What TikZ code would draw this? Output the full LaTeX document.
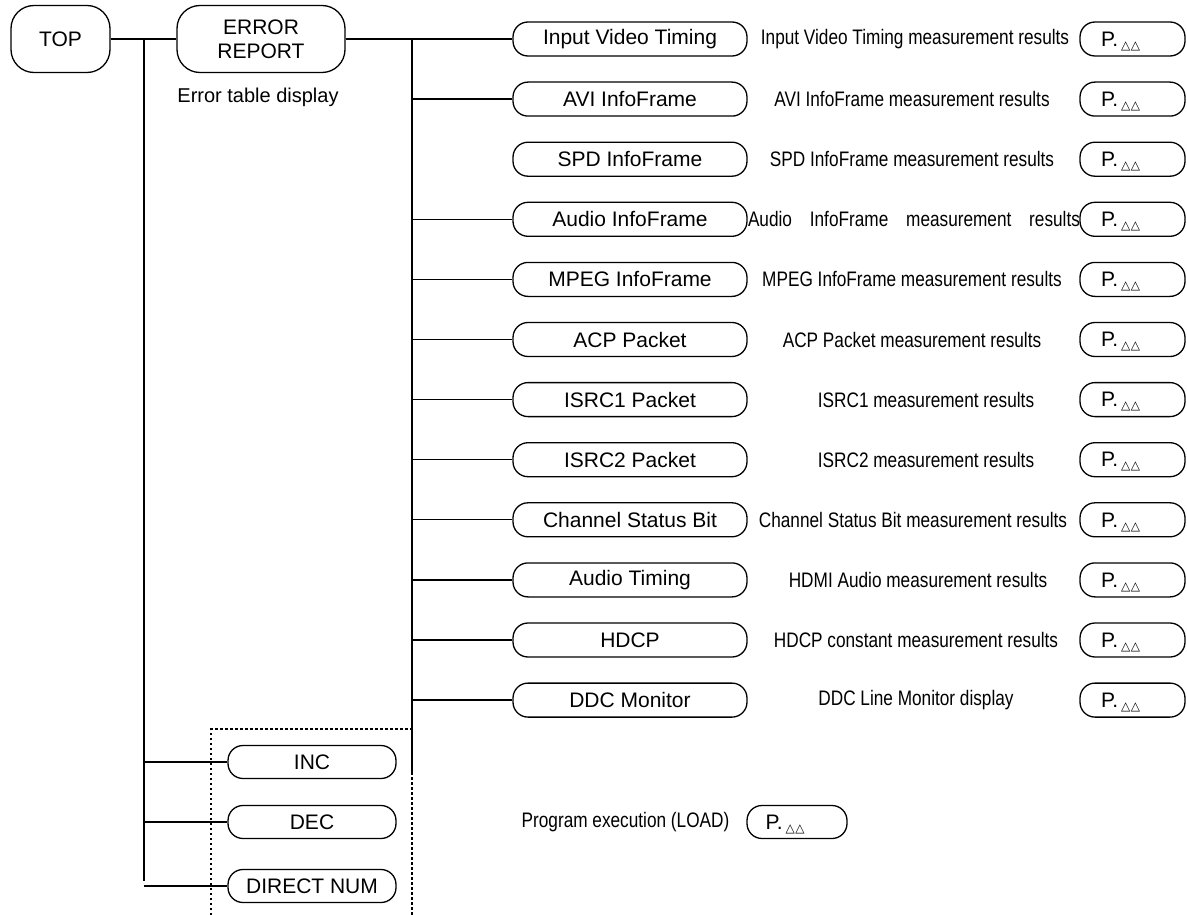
\documentclass[tikz,border=0pt]{standalone}
\usepackage{fontspec}
\setmainfont{Liberation Sans}
\newfontfamily\narrowfont[FakeStretch=0.82]{Liberation Sans}
\newfontfamily\trifont{DejaVu Sans}
\newcommand{\ptext}{\makebox[63pt][l]{P.\hspace{3pt}\raisebox{-3pt}[0pt][0pt]{\trifont\fontsize{12pt}{12pt}\selectfont △\hspace{0.5pt}△}}}
\begin{document}
\begin{tikzpicture}[x=1pt,y=-1pt,
  every node/.style={font=\fontsize{21pt}{24pt}\selectfont, inner sep=0pt},
  mainbox/.style={draw, line width=1.3pt, rounded corners=23pt, minimum height=67pt, align=center},
  itembox/.style={draw, line width=1.3pt, rounded corners=15pt, minimum width=234pt, minimum height=34pt},
  smallbox/.style={draw, line width=1.3pt, rounded corners=15pt, minimum width=168pt, minimum height=33pt},
  pbox/.style={draw, line width=1.3pt, rounded corners=15pt, minimum width=105pt, minimum height=34pt},
  desc/.style={font=\narrowfont\fontsize{21pt}{24pt}\selectfont},
  conn/.style={line width=1.3pt},
  dotbox/.style={line width=1.2pt, dash pattern=on 2.5pt off 2.5pt}]
\useasboundingbox (0,0) rectangle (1187,915);

% top level
\node[mainbox, minimum width=99pt] (top) at (60.5,39) {TOP};
\node[mainbox, minimum width=168pt] (err) at (261,39) {ERROR\\REPORT};
\node[font=\fontsize{20pt}{24pt}\selectfont] (errdesc) at (258,97) {Error table display};

% item boxes
\node[itembox] (r0) at (630,39) {Input Video Timing};
\node[itembox] (r1) at (630,99.1) {AVI InfoFrame};
\node[itembox] (r2) at (630,159.2) {SPD InfoFrame};
\node[itembox] (r3) at (630,219.3) {Audio InfoFrame};
\node[itembox] (r4) at (630,279.4) {MPEG InfoFrame};
\node[itembox] (r5) at (630,339.5) {ACP Packet};
\node[itembox] (r6) at (630,399.6) {ISRC1 Packet};
\node[itembox] (r7) at (630,459.7) {ISRC2 Packet};
\node[itembox] (r8) at (630,519.8) {Channel Status Bit};
\node[itembox] (r9) at (630,579.9) {Audio Timing};
\node[itembox] (r10) at (630,640) {HDCP};
\node[itembox] (r11) at (630,700.1) {DDC Monitor};

% descriptions
\node[desc] (d0) at (915,39) {Input Video Timing measurement results};
\node[desc] (d1) at (912,99.1) {AVI InfoFrame measurement results};
\node[desc] (d2) at (912,159.2) {SPD InfoFrame measurement results};
\node[desc] (d3) at (914,219.3) {\makebox[332pt][s]{Audio InfoFrame measurement results}};
\node[desc] (d4) at (912,279.4) {MPEG InfoFrame measurement results};
\node[desc] (d5) at (912,339.5) {ACP Packet measurement results};
\node[desc] (d6) at (926,399.6) {ISRC1 measurement results};
\node[desc] (d7) at (926,459.7) {ISRC2 measurement results};
\node[desc] (d8) at (913,519.8) {Channel Status Bit measurement results};
\node[desc] (d9) at (918,579.9) {HDMI Audio measurement results};
\node[desc] (d10) at (916,640) {HDCP constant measurement results};
\node[desc] (d11) at (916,700.1) {DDC Line Monitor display};

% page boxes
\node[pbox] (p0) at (1132.5,39) {\ptext};
\node[pbox] (p1) at (1132.5,99.1) {\ptext};
\node[pbox] (p2) at (1132.5,159.2) {\ptext};
\node[pbox] (p3) at (1132.5,219.3) {\ptext};
\node[pbox] (p4) at (1132.5,279.4) {\ptext};
\node[pbox] (p5) at (1132.5,339.5) {\ptext};
\node[pbox] (p6) at (1132.5,399.6) {\ptext};
\node[pbox] (p7) at (1132.5,459.7) {\ptext};
\node[pbox] (p8) at (1132.5,519.8) {\ptext};
\node[pbox] (p9) at (1132.5,579.9) {\ptext};
\node[pbox] (p10) at (1132.5,640) {\ptext};
\node[pbox] (p11) at (1132.5,700.1) {\ptext};

% lower left buttons
\node[smallbox] (inc) at (312,762) {INC};
\node[smallbox] (dec) at (312,822) {DEC};
\node[smallbox] (dnum) at (312,886) {DIRECT NUM};

% program execution
\node[desc] (prog) at (625.5,822) {Program execution (LOAD)};
\node[pbox, minimum width=100pt, minimum height=33pt] (pprog) at (797,822) {\ptext};

% connectors
\coordinate (b0) at (412,39);
\coordinate (bend) at (412,773);
\coordinate (l0) at (144,39);
\coordinate (lend) at (144,881);
\draw[conn] (top) -- (err);
\draw[conn] (err) -- (r0);
\draw[conn] (b0) -- (bend);
\foreach \k in {1,3,4,5,6,7,8,9,10,11}{
  \draw[conn] (b0 |- r\k.west) -- (r\k.west);
}
\draw[conn] (l0) -- (lend);
\draw[conn] (l0 |- inc.west) -- (inc);
\draw[conn] (l0 |- dec.west) -- (dec);
\draw[conn] (l0 |- dnum.west) -- (dnum);

% dotted group
\draw[dotbox] (211,915) -- (211,729) -- (412,729) -- (412,915);
\end{tikzpicture}
\end{document}
